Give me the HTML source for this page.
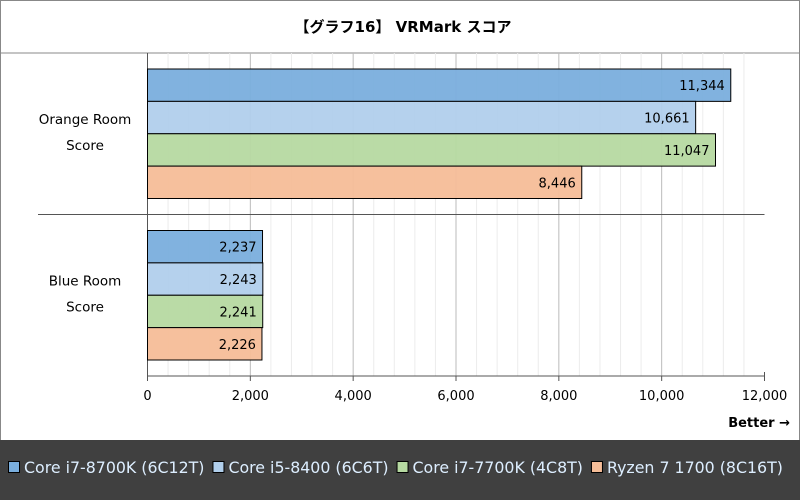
<!DOCTYPE html>
<html><head><meta charset="utf-8"><style>
body{margin:0;width:800px;height:500px;overflow:hidden;background:#fff;font-family:"DejaVu Sans","Liberation Sans","Noto Sans CJK JP",sans-serif;}
#wrap{position:absolute;left:0;top:0;width:798px;height:498px;border:1px solid #888;}
</style></head><body>
<div id="wrap"></div>
<svg id="c" width="800" height="500" style="position:absolute;left:0;top:0"></svg>
<script>
const categories=["Orange Room Score","Blue Room Score"];
const seriesNames=["Core i7-8700K (6C12T)","Core i5-8400 (6C6T)","Core i7-7700K (4C8T)","Ryzen 7 1700 (8C16T)"];
const orangeValues=[11344,10661,11047,8446];
const blueValues=[2237,2243,2241,2226];
const tickValues=[0,2000,4000,6000,8000,10000,12000];
const tickLabels=["0","2,000","4,000","6,000","8,000","10,000","12,000"];
const colors=["#7aaedd","#b1cfec","#b6d9a1","#f6bd98"];
const values=[orangeValues,blueValues];
const NS="http://www.w3.org/2000/svg";
const svg=document.getElementById('c');
function mk(t,a,p){const e=document.createElementNS(NS,t);for(const k in a)e.setAttribute(k,a[k]);(p||svg).appendChild(e);return e;}
const X0=147.5,X1=764.5,Y0=53,Y1=376,MAX=12000;
const xs=v=>X0+(X1-X0)*v/MAX;
const band=(Y1-Y0)/categories.length;
mk('line',{x1:0,y1:53,x2:800,y2:53,stroke:'#888'});
let t=mk('text',{x:403,y:32,'text-anchor':'middle','font-size':15,'font-weight':'bold',fill:'#000'});
t.textContent='【グラフ16】 VRMark スコア';


for(let v=400;v<MAX;v+=400){if(v%2000===0)continue;
 const g=mk('line',{x1:xs(v),y1:Y0,x2:xs(v),y2:Y1,stroke:'#ececec'});
 
 }
tickValues.forEach((v,i)=>{
 if(v>0&&v<MAX){const g=mk('line',{x1:xs(v),y1:Y0,x2:xs(v),y2:Y1,stroke:'#bbb'});
 
 }
 mk('line',{x1:xs(v),y1:Y1,x2:xs(v),y2:Y1+5,stroke:'#555'});
 const l=mk('text',{x:xs(v),y:400,'text-anchor':'middle','font-size':13,fill:'#000'});
 l.textContent=tickLabels[i];
 
 
});
mk('line',{x1:X0,y1:Y0,x2:X0,y2:Y1,stroke:'#555'});
mk('line',{x1:X0,y1:Y1,x2:X1,y2:Y1,stroke:'#555'});
mk('line',{x1:X1,y1:Y1-4,x2:X1,y2:Y1+5,stroke:'#555'});
mk('line',{x1:38,y1:Y0+band,x2:X1,y2:Y0+band,stroke:'#555'});
categories.forEach((c,ci)=>{
 const top=Y0+band*ci+16, bh=(band-32)/4;
 const words=c.split(' ');const l1=words.slice(0,2).join(' '),l2=words.slice(2).join(' ');
 [l1,l2].forEach((s,k)=>{const l=mk('text',{x:85,y:Y0+band*ci+band/2-15+k*26+5,'text-anchor':'middle','font-size':13.5,fill:'#000'});
 l.textContent=s;
 
 });
 values[ci].forEach((v,si)=>{
  const y=top+bh*si;
  const r=mk('rect',{x:X0,y:y,width:xs(v)-X0,height:bh,fill:colors[si],'fill-opacity':0.95,stroke:'#000','stroke-width':1});
  
  
  const l=mk('text',{x:xs(v)-6,y:y+bh/2+5,'text-anchor':'end','font-size':13,fill:'#000'});
  l.textContent=v.toLocaleString('en-US');
  
  
 });
});
let b=mk('text',{x:790,y:427,'text-anchor':'end','font-size':13,'font-weight':'bold',fill:'#000'});
b.textContent='Better →';


const lg=mk('rect',{x:0,y:440,width:800,height:60,fill:'#404040'});


let lx=8;
seriesNames.forEach((n,i)=>{
 const s=mk('rect',{x:lx+0.5,y:461.5,width:11,height:11,fill:colors[i],stroke:'#000'});
 
 
 const l=mk('text',{x:lx+16,y:473,'font-size':15.8,fill:'#ddeeff'});
 l.textContent=n;
 
 
 lx+=16+l.getComputedTextLength()+8;
});
</script>
</body></html>
